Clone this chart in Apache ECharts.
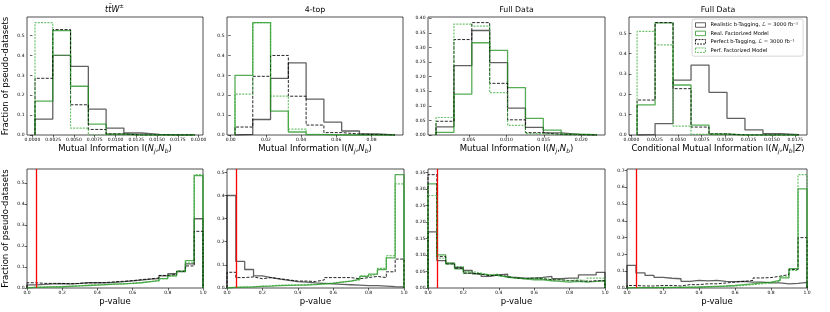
<!DOCTYPE html>
<html><head><meta charset="utf-8">
<script src="https://cdn.jsdelivr.net/npm/echarts@6/dist/echarts.min.js"></script>
<style>html,body{margin:0;padding:0;background:#fff}#c{width:830px;height:312px}</style>
</head><body><div id="c"></div><script>
// ---------------- DATA ----------------
const seriesNames = ['Realistic b-Tagging, ℒ = 3000 fb⁻¹', 'Real. Factorized Model', 'Perfect b-Tagging, ℒ = 3000 fb⁻¹', 'Perf. Factorized Model'];
const panelTitles = ['ttW', '4-top', 'Full Data', 'Full Data'];

// top row: mutual information histograms (bin start, bin width, fractions)
const ttwBinStart = 0.00031, ttwBinWidth = 0.00214;
const ttwReal     = [0.080, 0.400, 0.345, 0.130, 0.035, 0.010, 0.003, 0.001, 0.001];
const ttwRealFact = [0.170, 0.525, 0.245, 0.055, 0.005, 0, 0, 0, 0];
const ttwPerf     = [0.285, 0.530, 0.152, 0.028, 0.005, 0, 0, 0, 0];
const ttwPerfFact = [0.565, 0.400, 0.035, 0, 0, 0, 0, 0, 0];

const fourTopBinStart = 0.00243, fourTopBinWidth = 0.0101;
const fourTopReal     = [0.003, 0.078, 0.285, 0.363, 0.180, 0.065, 0.020, 0.005, 0.001];
const fourTopRealFact = [0.300, 0.565, 0.120, 0.015, 0.002, 0, 0, 0, 0];
const fourTopPerf     = [0.040, 0.295, 0.400, 0.195, 0.050, 0.012, 0.005, 0.002, 0];
const fourTopPerfFact = [0.205, 0.565, 0.195, 0.030, 0.003, 0, 0, 0, 0];

const fullBinStart = 0.0006, fullBinWidth = 0.00239;
const fullReal     = [0.028, 0.2375, 0.358, 0.248, 0.092, 0.026, 0.007, 0.002, 0];
const fullRealFact = [0.009, 0.140, 0.316, 0.290, 0.1625, 0.057, 0.017, 0.003, 0.001];
const fullPerf     = [0.047, 0.327, 0.385, 0.177, 0.052, 0.008, 0.002, 0, 0];
const fullPerfFact = [0.060, 0.380, 0.373, 0.145, 0.033, 0.005, 0.001, 0, 0];

const cmiBinStart = 0.0006, cmiBinWidth = 0.00192;
const cmiReal     = [0.002, 0.056, 0.270, 0.344, 0.210, 0.082, 0.025, 0.007, 0.002];
const cmiRealFact = [0.148, 0.552, 0.246, 0.049, 0.005, 0, 0, 0, 0];
const cmiPerf     = [0.172, 0.553, 0.228, 0.039, 0.005, 0, 0, 0, 0];
const cmiPerfFact = [0.510, 0.443, 0.044, 0.003, 0, 0, 0, 0, 0];

// bottom row: p-value histograms, 20 bins on [0,1]
const pBinStart = 0, pBinWidth = 0.05;
const pThreshold = 0.05;
const pTtwReal     = [0.015,0.017,0.020,0.021,0.020,0.022,0.025,0.026,0.025,0.027,0.030,0.034,0.038,0.042,0.045,0.058,0.068,0.078,0.115,0.330];
const pTtwRealFact = [0.003,0.004,0.005,0.006,0.008,0.010,0.012,0.014,0.016,0.018,0.020,0.022,0.025,0.030,0.035,0.045,0.058,0.080,0.130,0.535];
const pTtwPerf     = [0.025,0.022,0.022,0.022,0.020,0.022,0.025,0.025,0.026,0.030,0.032,0.035,0.040,0.043,0.048,0.060,0.065,0.080,0.105,0.270];
const pTtwPerfFact = [0.004,0.005,0.006,0.007,0.009,0.011,0.013,0.015,0.016,0.018,0.020,0.023,0.026,0.030,0.034,0.044,0.058,0.078,0.120,0.540];

const pFourReal     = [0.400,0.115,0.080,0.052,0.045,0.038,0.033,0.028,0.025,0.022,0.020,0.018,0.016,0.014,0.012,0.010,0.010,0.008,0.006,0.005];
const pFourRealFact = [0.003,0.004,0.005,0.007,0.008,0.010,0.011,0.012,0.013,0.015,0.018,0.020,0.025,0.030,0.038,0.050,0.060,0.080,0.130,0.490];
const pFourPerf     = [0.068,0.045,0.048,0.040,0.045,0.040,0.035,0.030,0.030,0.028,0.035,0.045,0.045,0.045,0.040,0.045,0.050,0.045,0.070,0.125];
const pFourPerfFact = [0.003,0.004,0.006,0.008,0.010,0.012,0.012,0.013,0.015,0.016,0.018,0.022,0.026,0.030,0.035,0.052,0.060,0.085,0.140,0.450];

const pFullReal     = [0.170,0.083,0.075,0.062,0.053,0.043,0.035,0.040,0.042,0.032,0.030,0.030,0.032,0.035,0.028,0.030,0.030,0.040,0.040,0.047];
const pFullRealFact = [0.315,0.100,0.073,0.058,0.045,0.042,0.040,0.038,0.032,0.030,0.028,0.025,0.025,0.022,0.020,0.018,0.020,0.018,0.020,0.022];
const pFullPerf     = [0.343,0.095,0.073,0.060,0.045,0.042,0.037,0.040,0.035,0.030,0.028,0.030,0.028,0.025,0.025,0.022,0.022,0.020,0.022,0.022];
const pFullPerfFact = [0.280,0.090,0.075,0.065,0.050,0.045,0.040,0.042,0.035,0.030,0.028,0.030,0.030,0.025,0.025,0.022,0.025,0.022,0.030,0.030];

const pCmiReal     = [0.135,0.090,0.075,0.063,0.058,0.055,0.040,0.045,0.042,0.045,0.040,0.038,0.040,0.035,0.035,0.030,0.030,0.025,0.028,0.033];
const pCmiRealFact = [0.002,0.002,0.002,0.003,0.004,0.004,0.005,0.006,0.008,0.010,0.012,0.015,0.020,0.025,0.030,0.035,0.045,0.060,0.115,0.590];
const pCmiPerf     = [0.015,0.012,0.012,0.015,0.015,0.012,0.020,0.020,0.025,0.025,0.030,0.035,0.040,0.045,0.060,0.062,0.070,0.080,0.110,0.300];
const pCmiPerfFact = [0.001,0.001,0.002,0.002,0.003,0.003,0.004,0.005,0.006,0.008,0.010,0.012,0.015,0.020,0.025,0.030,0.040,0.070,0.105,0.675];

// tick values
const xTicksTtw  = [0, 0.0025, 0.005, 0.0075, 0.01, 0.0125, 0.015, 0.0175, 0.02];
const xTicksFour = [0, 0.02, 0.04, 0.06, 0.08];
const xTicksFull = [0.005, 0.01, 0.015, 0.02];
const xTicksCmi  = [0, 0.0025, 0.005, 0.0075, 0.01, 0.0125, 0.015, 0.0175];
const xTicksP    = [0, 0.2, 0.4, 0.6, 0.8, 1.0];
const yTicks05   = [0, 0.1, 0.2, 0.3, 0.4, 0.5];
const yTicks040  = [0, 0.05, 0.1, 0.15, 0.2, 0.25, 0.3, 0.35, 0.4];
const yTicks035  = [0, 0.05, 0.1, 0.15, 0.2, 0.25, 0.3, 0.35];
const yTicks07   = [0, 0.1, 0.2, 0.3, 0.4, 0.5, 0.6, 0.7];

// ---------------- LAYOUT / STYLE ----------------
const FONT = 'DejaVu Sans';
const grids = [
  {left: 26,  top: 17,  width: 177, height: 118},
  {left: 227, top: 17,  width: 176, height: 118},
  {left: 428, top: 17,  width: 177, height: 118},
  {left: 629, top: 17,  width: 178, height: 118},
  {left: 27,  top: 169, width: 176, height: 119},
  {left: 227, top: 169, width: 177, height: 119},
  {left: 428, top: 169, width: 177, height: 119},
  {left: 627, top: 169, width: 180, height: 119}
];
const lineStyles = [
  {color: 'rgba(0,0,0,0.62)', width: 1.3, type: 'solid'},
  {color: 'rgba(20,140,20,0.72)', width: 1.3, type: 'solid'},
  {color: 'rgba(0,0,0,0.85)', width: 1.0, type: [3, 1.5]},
  {color: 'rgba(50,170,50,0.7)', width: 1.2, type: [2, 1.2]}
];

const miName = 'Mutual Information I({it|N}{sub|j},{it|N}{sub|b})';
const cmiName = 'Conditional Mutual Information I({it|N}{sub|j},{it|N}{sub|b}|{it|Z})';

const panels = [
  {start: ttwBinStart, width: ttwBinWidth, vals: [ttwReal, ttwRealFact, ttwPerf, ttwPerfFact], xTicks: xTicksTtw, xDec: 4, yTicks: yTicks05, yDec: 1, xName: miName, yName: 'Fraction of pseudo-datasets'},
  {start: fourTopBinStart, width: fourTopBinWidth, vals: [fourTopReal, fourTopRealFact, fourTopPerf, fourTopPerfFact], xTicks: xTicksFour, xDec: 2, yTicks: yTicks05, yDec: 1, xName: miName},
  {start: fullBinStart, width: fullBinWidth, vals: [fullReal, fullRealFact, fullPerf, fullPerfFact], xTicks: xTicksFull, xDec: 3, yTicks: yTicks040, yDec: 2, xName: miName},
  {start: cmiBinStart, width: cmiBinWidth, vals: [cmiReal, cmiRealFact, cmiPerf, cmiPerfFact], xTicks: xTicksCmi, xDec: 4, yTicks: yTicks05, yDec: 1, xName: cmiName},
  {start: pBinStart, width: pBinWidth, vals: [pTtwReal, pTtwRealFact, pTtwPerf, pTtwPerfFact], xTicks: xTicksP, xDec: 1, yTicks: yTicks05, yDec: 1, xName: 'p-value', yName: 'Fraction of pseudo-datasets', pv: true},
  {start: pBinStart, width: pBinWidth, vals: [pFourReal, pFourRealFact, pFourPerf, pFourPerfFact], xTicks: xTicksP, xDec: 1, yTicks: yTicks05, yDec: 1, xName: 'p-value', pv: true},
  {start: pBinStart, width: pBinWidth, vals: [pFullReal, pFullRealFact, pFullPerf, pFullPerfFact], xTicks: xTicksP, xDec: 1, yTicks: yTicks035, yDec: 2, xName: 'p-value', pv: true},
  {start: pBinStart, width: pBinWidth, vals: [pCmiReal, pCmiRealFact, pCmiPerf, pCmiPerfFact], xTicks: xTicksP, xDec: 1, yTicks: yTicks07, yDec: 1, xName: 'p-value', pv: true}
];

function stepPoints(start, width, vals) {
  const pts = [[start, 0]];
  for (let i = 0; i < vals.length; i++) {
    pts.push([start + i * width, vals[i]]);
    pts.push([start + (i + 1) * width, vals[i]]);
  }
  pts.push([start + vals.length * width, 0]);
  return pts;
}

const nameRich = {
  it: {fontStyle: 'italic', fontSize: 8.5, fontFamily: FONT, color: '#000'},
  sub: {fontStyle: 'italic', fontSize: 6, fontFamily: FONT, color: '#000', padding: [5, 0, 0, 0]}
};

const xAxes = [], yAxes = [], series = [];
panels.forEach((p, k) => {
  const n = p.vals[0].length;
  const e0 = p.start, e1 = p.start + n * p.width;
  const xmin = p.pv ? 0 : e0 - 0.05 * (e1 - e0);
  const xmax = p.pv ? 1 : e1 + 0.05 * (e1 - e0);
  const ymax = 1.05 * Math.max(...p.vals.map(v => Math.max(...v)));
  xAxes.push({
    type: 'value', gridIndex: k, min: xmin, max: xmax,
    splitLine: {show: false}, axisLine: {show: false},
    axisTick: {show: true, length: 2.5, lineStyle: {color: '#000', width: 0.6}, customValues: p.xTicks},
    axisLabel: {show: true, customValues: p.xTicks, fontSize: 4.5, fontFamily: FONT, color: '#000', margin: 2.5,
      formatter: v => v.toFixed(p.xDec)},
    name: p.xName, nameLocation: 'middle', nameGap: p.pv ? 9.5 : 8,
    nameTextStyle: {fontSize: 8.5, fontFamily: FONT, color: '#000', rich: nameRich}
  });
  yAxes.push({
    type: 'value', gridIndex: k, min: 0, max: ymax,
    splitLine: {show: false}, axisLine: {show: false},
    axisTick: {show: true, length: 2.5, lineStyle: {color: '#000', width: 0.6}, customValues: p.yTicks},
    axisLabel: {show: true, customValues: p.yTicks, fontSize: 4.5, fontFamily: FONT, color: '#000', margin: 2.5,
      formatter: v => v.toFixed(p.yDec)},
    name: p.yName || '', nameLocation: 'middle', nameGap: 17, nameRotate: 90,
    nameTextStyle: {fontSize: 8.5, fontFamily: FONT, color: '#000'}
  });
  p.vals.forEach((v, s) => {
    const ser = {
      type: 'line', name: seriesNames[s], xAxisIndex: k, yAxisIndex: k,
      data: stepPoints(p.start, p.width, v),
      symbol: 'none', showSymbol: false, silent: true, animation: false,
      lineStyle: lineStyles[s], itemStyle: {color: lineStyles[s].color}, z: 2 + s
    };
    if (p.pv && s === 3) {
      ser.markLine = {symbol: 'none', silent: true, animation: false, label: {show: false},
        lineStyle: {color: '#ff0000', width: 1.3, type: 'solid'}, data: [{xAxis: pThreshold}]};
    }
    series.push(ser);
  });
});

const titleRich = {
  it: {fontStyle: 'italic', fontSize: 8, fontFamily: FONT, fill: '#000'},
  sup: {fontStyle: 'italic', fontSize: 5.5, fontFamily: FONT, fill: '#000', padding: [0, 0, 5, 0]},
  n: {fontSize: 7.8, fontFamily: FONT, fill: '#000'}
};
const titleTexts = ['{it|tt\u0304W}{sup|±}', '{n|' + panelTitles[1] + '}', '{n|' + panelTitles[2] + '}', '{n|' + panelTitles[3] + '}'];
const graphics = titleTexts.map((t, k) => ({
  type: 'text', x: grids[k].left + grids[k].width / 2, y: 9.5,
  style: {text: t, rich: titleRich, align: 'center', verticalAlign: 'middle', fontFamily: FONT, fontSize: 7.8, fill: '#000'}
}));

const legendData = seriesNames.map((nm, s) => ({
  name: nm,
  itemStyle: {color: '#fff', borderColor: lineStyles[s].color, borderWidth: 1, borderType: s >= 2 ? [2, 1] : 'solid'}
}));

const option = {
  animation: false,
  backgroundColor: '#fff',
  grid: grids.map(g => Object.assign({show: true, borderColor: '#222', borderWidth: 0.8, backgroundColor: 'transparent'}, g)),
  xAxis: xAxes, yAxis: yAxes, series: series,
  graphic: graphics,
  legend: {
    orient: 'vertical', left: 692, top: 19, selectedMode: false,
    icon: 'rect', itemWidth: 10, itemHeight: 4.5, itemGap: 2.4,
    textStyle: {fontSize: 5.2, fontFamily: FONT, color: '#000', lineHeight: 6},
    borderColor: '#ccc', borderWidth: 0.8, borderRadius: 2, padding: [3, 5, 3, 3], backgroundColor: '#fff',
    data: legendData
  }
};
const chart = echarts.init(document.getElementById('c'), null, {renderer: 'canvas'});
chart.setOption(option);
</script></body></html>
